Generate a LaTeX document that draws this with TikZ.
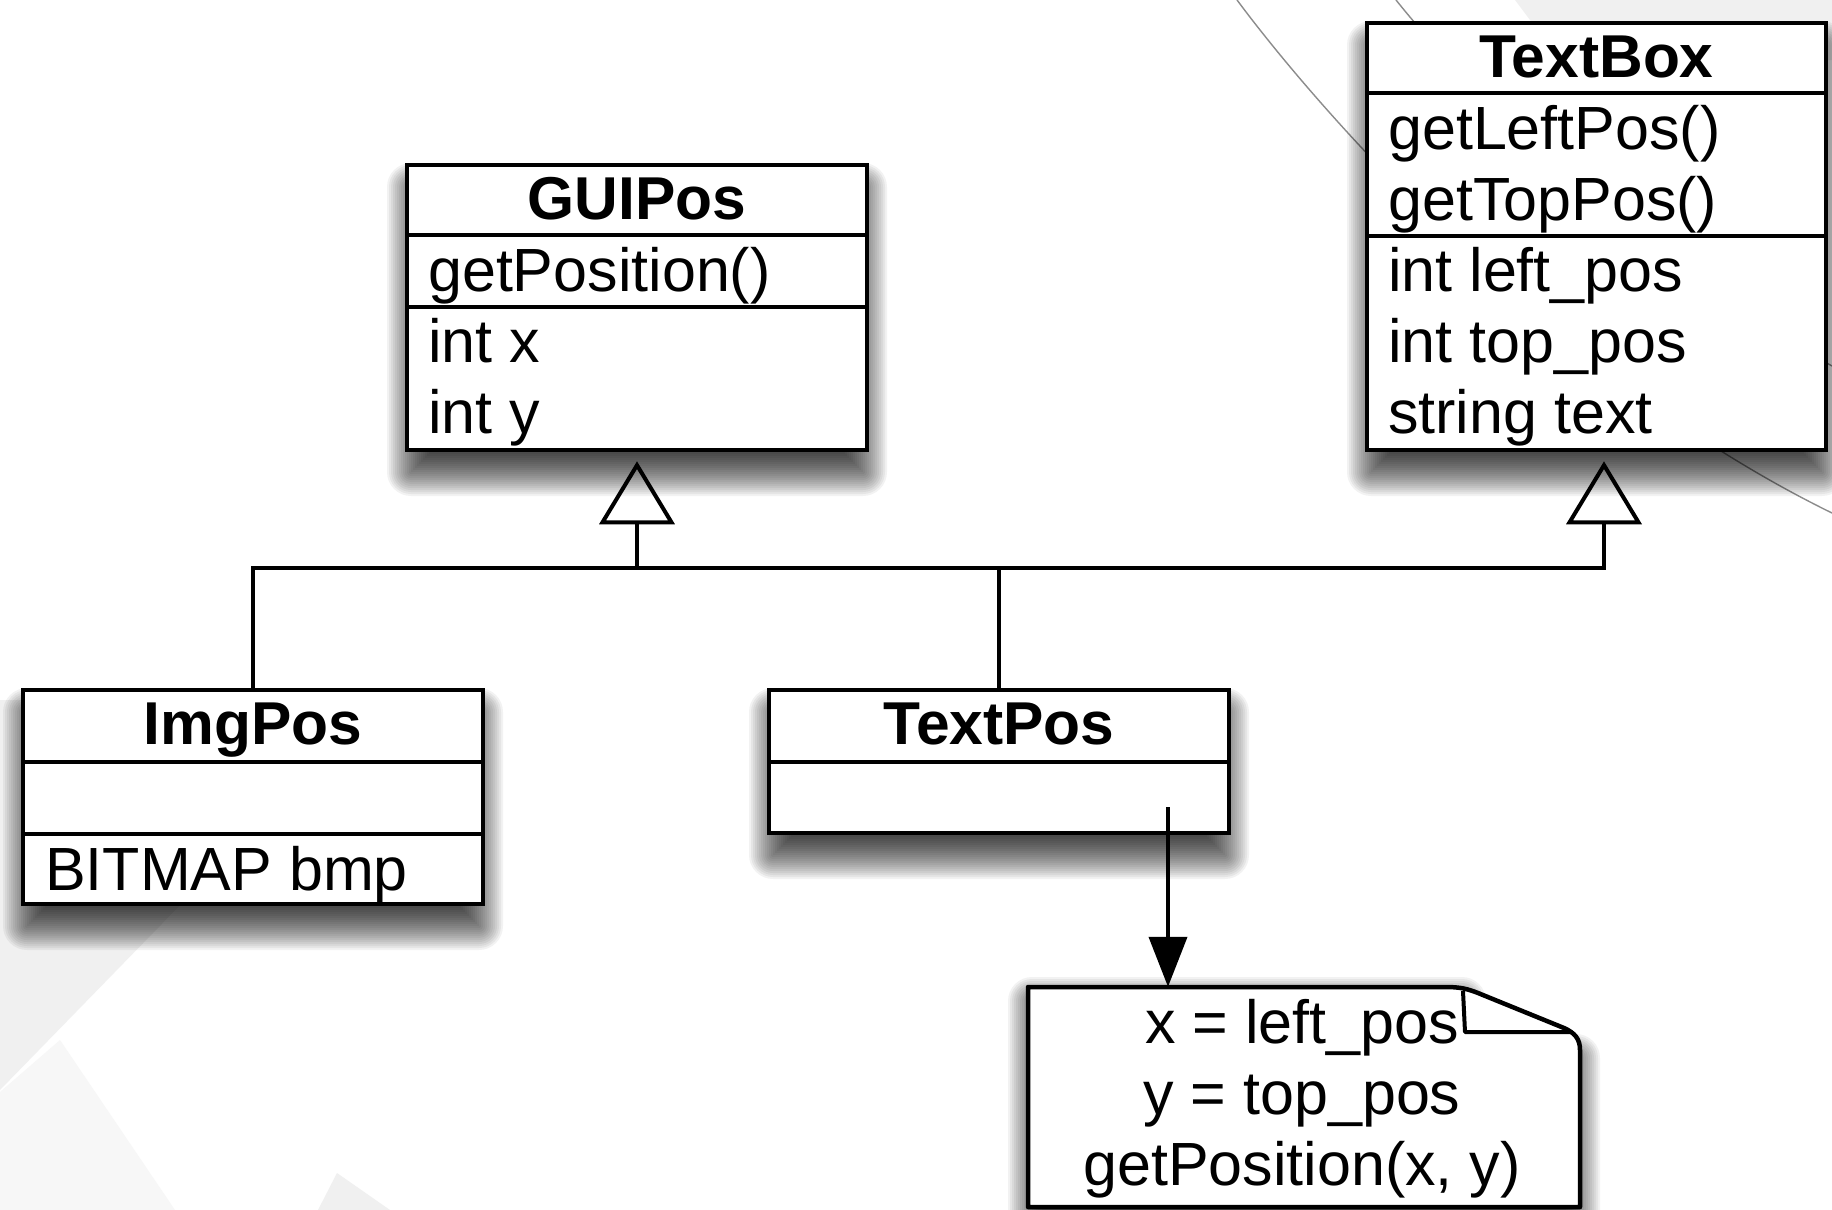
\documentclass[tikz,border=0pt]{standalone}
\usepackage{fontspec}
\setmainfont{Liberation Sans}
\usetikzlibrary{arrows.meta}
\tikzset{
  classbox/.style={draw=black, line width=4.5pt, fill=white, inner sep=0pt},
  notebody/.style={draw=black, line width=4.5pt, fill=white, line join=round},
  divider/.style={line width=4pt},
  ctitle/.style={font=\bfseries\fontsize{60.5}{71}\selectfont, anchor=base, inner sep=0pt},
  member/.style={font=\fontsize{61}{71}\selectfont, anchor=base west, inner sep=0pt},
  notetext/.style={font=\fontsize{61}{71}\selectfont, anchor=base, inner sep=0pt},
  conn/.style={line width=4pt, line join=miter},
  inh/.style={conn, -{Triangle[open, length=63pt, width=75pt, line width=4pt]}, shorten >=9pt},
  dep/.style={conn, -{Triangle[length=50pt, width=38pt, fill=black, color=black]}},
  bgline/.style={draw=black!45, line width=1.4pt},
  bgshape/.style={fill=black!6, draw=none},
  shadowlayer/.style={fill=black, opacity=0.05, draw=none},
}
% soft drop shadow: x1 y1 x2 y2 (px, y downwards), vertical offset
\newcommand{\softshadow}[5]{%
  \foreach \r in {-24,-22,...,24}{%
    \pgfmathsetmacro{\rc}{max(\r,0)}%
    \fill[shadowlayer, rounded corners=\rc pt]
      ({#1+4-(\r)}, {#2+#5-(\r)}) rectangle ({#3-4+(\r)}, {#4+#5+(\r)});
  }}
\begin{document}
\begin{tikzpicture}[x=1pt, y=-1pt]
\useasboundingbox (0,0) rectangle (1832,1210);
\fill[white] (0,0) rectangle (1832,1210);
% faint background shapes
\fill[bgshape] (0,700) -- (380,700) -- (0,1090) -- cycle;
\fill[fill=black!3] (0,1092) -- (60,1040) -- (175,1210) -- (0,1210) -- cycle;
\fill[bgshape] (337,1173) -- (390,1210) -- (318,1210) -- cycle;
\fill[bgshape] (1515,0) -- (1832,0) -- (1832,60) -- (1560,60) -- cycle;
\draw[bgline] (1237,0) .. controls (1330,125) and (1560,380) .. (1832,513);
\draw[bgline] (1396,0) .. controls (1500,130) and (1680,280) .. (1832,366);

% shadows
\softshadow{407}{165}{867}{450}{22}
\softshadow{1367}{23}{1826}{450}{22}
\softshadow{23}{690}{483}{904}{22}
\softshadow{769}{690}{1229}{833}{22}
% note shadow: union of two rectangles (leaves the folded corner lighter)
\foreach \r in {-24,-22,...,24}{%
  \pgfmathsetmacro{\rc}{max(\r,0)}%
  \fill[shadowlayer, rounded corners=\rc pt]
    ({1032-(\r)}, {1001-(\r)}) rectangle ({1462+(\r)}, {1221+(\r)})
    ({1032-(\r)}, {1058-(\r)}) rectangle ({1576+(\r)}, {1221+(\r)});
}

% GUIPos
\node[classbox, minimum width=460pt, minimum height=285pt] (gui) at (637,307.5) {};
\draw[divider] (407,235) -- (867,235);
\draw[divider] (407,307) -- (867,307);
\node[ctitle] (guiT) at (637,219) {GUIPos};
\node[member] (guiM1) at (428,291) {getPosition()};
\node[member] (guiA1) at (428,362) {int x};
\node[member] (guiA2) at (428,433) {int y};

% TextBox
\node[classbox, minimum width=459pt, minimum height=427pt] (tb) at (1596.5,236.5) {};
\draw[divider] (1367,93) -- (1826,93);
\draw[divider] (1367,236) -- (1826,236);
\node[ctitle] (tbT) at (1596.5,77) {TextBox};
\node[member] (tbM1) at (1388,149) {getLeftPos()};
\node[member] (tbM2) at (1388,220) {getTopPos()};
\node[member] (tbA1) at (1388,291) {int left\_pos};
\node[member] (tbA2) at (1388,362) {int top\_pos};
\node[member] (tbA3) at (1388,433) {string text};

% ImgPos
\node[classbox, minimum width=460pt, minimum height=214pt] (img) at (253,797) {};
\draw[divider] (23,762) -- (483,762);
\draw[divider] (23,834) -- (483,834);
\node[ctitle] (imgT) at (253,744) {ImgPos};
\node[member] (imgA1) at (45,890) {BITMAP bmp};

% TextPos
\node[classbox, minimum width=460pt, minimum height=143pt] (tp) at (999,761.5) {};
\draw[divider] (769,762) -- (1229,762);
\node[ctitle] (tpT) at (999,744) {TextPos};

% Note
\node[minimum width=552pt, minimum height=220pt, inner sep=0pt] (note) at (1304,1097) {};
\path[notebody] (1028,987) -- (1446,987) .. controls (1460,987) and (1468,989) .. (1478,993)
  -- (1564,1028) .. controls (1575,1033) and (1580,1039) .. (1580,1050)
  -- (1580,1207) -- (1028,1207) -- cycle;
\draw[line width=4pt, line join=round] (1463,991) -- (1465,1032) -- (1570,1032);
\node[notetext] (n1) at (1302,1043) {x = left\_pos};
\node[notetext] (n2) at (1302,1114) {y = top\_pos};
\node[notetext] (n3) at (1302,1185) {getPosition(x, y)};

% connectors
\coordinate (busR) at (1604,568);
\draw[inh] (img.north) |- (busR) -- (busR |- tb.south);
\draw[inh] (gui.south |- busR) -- (gui.south);
\draw[conn] (tp.north) -- (tp.north |- busR);
\coordinate (tpsrc) at (1168,807);
\draw[dep] (tpsrc) -- (tpsrc |- note.north);
\end{tikzpicture}
\end{document}
